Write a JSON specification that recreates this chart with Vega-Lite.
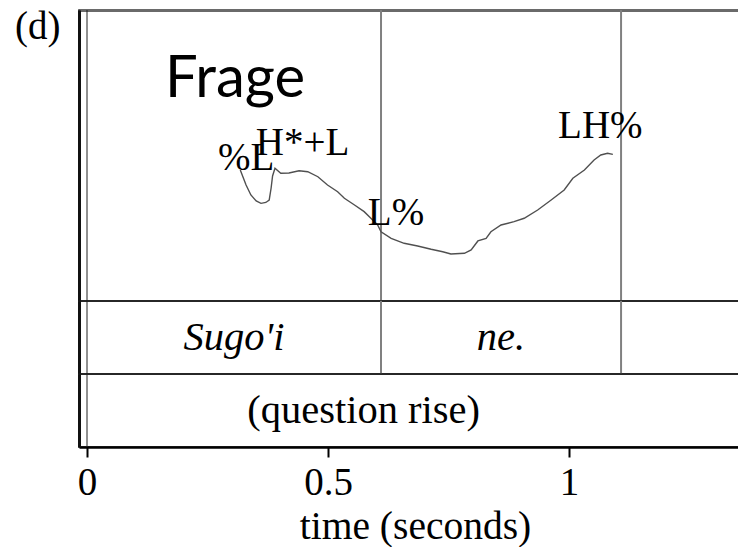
{
  "$schema": "https://vega.github.io/schema/vega-lite/v6.json",
  "background": "white",
  "padding": {"left": 15, "top": 8, "right": 0, "bottom": 0},
  "title": {"text": "(d)", "orient": "left", "anchor": "end", "angle": 0, "align": "left", "baseline": "top", "frame": "group", "offset": 16, "dy": -2, "font": "Liberation Serif", "fontSize": 39, "fontWeight": "normal", "color": "black"},
  "spacing": 0,
  "bounds": "flush",
  "config": {
    "view": {"stroke": "#1a1a1a", "strokeWidth": 1.5},
    "axis": {"grid": false},
    "text": {"font": "Liberation Serif", "fontSize": 39, "color": "black"}
  },
  "datasets": {
    "pitch": [
      {"time": 0.318, "f0": 235.1}, {"time": 0.330, "f0": 219.6}, {"time": 0.340, "f0": 209.3},
      {"time": 0.351, "f0": 203.1}, {"time": 0.361, "f0": 200.7}, {"time": 0.371, "f0": 201.6},
      {"time": 0.378, "f0": 204.1}, {"time": 0.382, "f0": 216.5}, {"time": 0.385, "f0": 228.9},
      {"time": 0.390, "f0": 236.8}, {"time": 0.402, "f0": 231.7}, {"time": 0.419, "f0": 232.0},
      {"time": 0.440, "f0": 234.3}, {"time": 0.458, "f0": 233.3}, {"time": 0.479, "f0": 228.1},
      {"time": 0.499, "f0": 219.6}, {"time": 0.520, "f0": 212.7}, {"time": 0.534, "f0": 205.9},
      {"time": 0.555, "f0": 199.0}, {"time": 0.575, "f0": 192.1}, {"time": 0.589, "f0": 185.3},
      {"time": 0.603, "f0": 178.4}, {"time": 0.610, "f0": 171.4}, {"time": 0.631, "f0": 164.6},
      {"time": 0.658, "f0": 159.5}, {"time": 0.686, "f0": 156.7}, {"time": 0.714, "f0": 153.3},
      {"time": 0.738, "f0": 150.8}, {"time": 0.755, "f0": 148.5}, {"time": 0.783, "f0": 149.2},
      {"time": 0.797, "f0": 152.6}, {"time": 0.811, "f0": 161.9}, {"time": 0.828, "f0": 164.6},
      {"time": 0.838, "f0": 171.4}, {"time": 0.859, "f0": 178.4}, {"time": 0.886, "f0": 181.8},
      {"time": 0.907, "f0": 185.3}, {"time": 0.935, "f0": 193.8}, {"time": 0.963, "f0": 204.1},
      {"time": 0.990, "f0": 214.4}, {"time": 1.008, "f0": 226.5}, {"time": 1.032, "f0": 235.1},
      {"time": 1.052, "f0": 245.4}, {"time": 1.066, "f0": 250.5}, {"time": 1.080, "f0": 252.3},
      {"time": 1.091, "f0": 251.2}
    ],
    "tones": [
      {"time": 0.330, "f0": 235.1, "label": "%L"},
      {"time": 0.447, "f0": 250.5, "label": "H*+L"},
      {"time": 0.641, "f0": 178.4, "label": "L%"},
      {"time": 1.065, "f0": 268.0, "label": "LH%"}
    ],
    "annotation": [{"time": 0.307, "f0": 310.3, "label": "Frage"}],
    "edges": [{"time": 0}],
    "boundaries": [{"time": 0.61}, {"time": 1.108}],
    "words": [
      {"time": 0.305, "tier": "words", "label": "Sugo'i"},
      {"time": 0.859, "tier": "words", "label": "ne."}
    ],
    "phrase": [{"time": 0.574, "tier": "phrase", "label": "(question rise)"}]
  },
  "vconcat": [
    {
      "width": 660,
      "height": 291,
      "encoding": {
        "x": {"field": "time", "type": "quantitative",
          "scale": {"domain": [-0.0166, 1.3527], "nice": false, "zero": false},
          "axis": {"orient": "top", "title": null, "labels": false, "ticks": false, "domain": true, "domainColor": "#6a6a6a", "domainWidth": 3}}
      },
      "layer": [
        {"data": {"name": "edges"}, "mark": {"type": "rule", "color": "#222", "strokeWidth": 1}},
        {"data": {"name": "boundaries"}, "mark": {"type": "rule", "color": "#808080", "strokeWidth": 2}},
        {"data": {"name": "pitch"}, "mark": {"type": "line", "color": "#505050", "strokeWidth": 1.4},
          "encoding": {"y": {"field": "f0", "type": "quantitative", "scale": {"domain": [100, 400], "nice": false, "zero": false},
            "axis": {"title": null, "labels": false, "ticks": false, "domain": true, "domainColor": "#111", "domainWidth": 3}}}},
        {"data": {"name": "tones"}, "mark": {"type": "text", "align": "center", "baseline": "alphabetic"},
          "encoding": {"y": {"field": "f0", "type": "quantitative", "scale": {"domain": [100, 400], "nice": false, "zero": false},
            "axis": {"title": null, "labels": false, "ticks": false, "domain": true, "domainColor": "#111", "domainWidth": 3}},
            "text": {"field": "label"}}},
        {"data": {"name": "annotation"}, "mark": {"type": "text", "align": "center", "baseline": "alphabetic", "font": "Lato", "fontSize": 58},
          "encoding": {"y": {"field": "f0", "type": "quantitative", "scale": {"domain": [100, 400], "nice": false, "zero": false},
            "axis": {"title": null, "labels": false, "ticks": false, "domain": true, "domainColor": "#111", "domainWidth": 3}},
            "text": {"field": "label"}}}
      ]
    },
    {
      "width": 660,
      "height": 73,
      "encoding": {
        "x": {"field": "time", "type": "quantitative",
          "scale": {"domain": [-0.0166, 1.3527], "nice": false, "zero": false}, "axis": null}
      },
      "layer": [
        {"data": {"name": "edges"}, "mark": {"type": "rule", "color": "#222", "strokeWidth": 1}},
        {"data": {"name": "boundaries"}, "mark": {"type": "rule", "color": "#808080", "strokeWidth": 2}},
        {"data": {"name": "words"}, "mark": {"type": "text", "align": "center", "baseline": "middle", "fontStyle": "italic", "fontSize": 40.5},
          "encoding": {"y": {"field": "tier", "type": "nominal",
            "axis": {"title": null, "labels": false, "ticks": false, "domain": true, "domainColor": "#111", "domainWidth": 3}},
            "text": {"field": "label"}}}
      ]
    },
    {
      "width": 660,
      "height": 73,
      "encoding": {
        "x": {"field": "time", "type": "quantitative",
          "scale": {"domain": [-0.0166, 1.3527], "nice": false, "zero": false},
          "axis": {"orient": "bottom", "values": [0, 0.5, 1], "format": "~g", "title": "time (seconds)",
            "labelFont": "Liberation Serif", "labelFontSize": 39, "labelColor": "black", "labelPadding": 6, "labelFlush": false, "labelOverlap": false,
            "titleFont": "Liberation Serif", "titleFontSize": 39.5, "titleFontWeight": "normal", "titleColor": "black",
            "titleX": 336, "titleY": 60, "titleBaseline": "top",
            "tickSize": 10, "tickWidth": 2, "tickColor": "black",
            "domainColor": "black", "domainWidth": 2.5}}
      },
      "layer": [
        {"data": {"name": "edges"}, "mark": {"type": "rule", "color": "#222", "strokeWidth": 1}},
        {"data": {"name": "phrase"}, "mark": {"type": "text", "align": "center", "baseline": "middle", "fontSize": 40.5},
          "encoding": {"y": {"field": "tier", "type": "nominal",
            "axis": {"title": null, "labels": false, "ticks": false, "domain": true, "domainColor": "#111", "domainWidth": 3}},
            "text": {"field": "label"}}}
      ]
    }
  ]
}
